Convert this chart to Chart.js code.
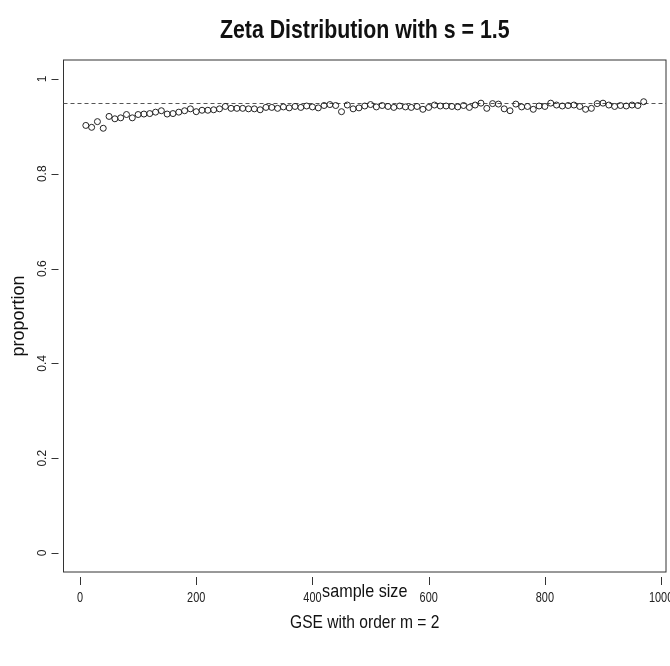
<!DOCTYPE html>
<html>
<head>
<meta charset="utf-8">
<script src="https://cdn.jsdelivr.net/npm/chart.js@4.4.1/dist/chart.umd.min.js"></script>
<style>
  html, body { margin: 0; padding: 0; background: #fff; }
  #wrap { width: 670px; height: 666px; }
</style>
</head>
<body>
<div id="wrap"><canvas id="zetaChart" width="670" height="666"></canvas></div>
<script>
const sampleSizes = [
    10, 20, 30, 40, 50, 60, 70, 80, 90, 100,
    110, 120, 130, 140, 150, 160, 170, 180, 190, 200,
    210, 220, 230, 240, 250, 260, 270, 280, 290, 300,
    310, 320, 330, 340, 350, 360, 370, 380, 390, 400,
    410, 420, 430, 440, 450, 460, 470, 480, 490, 500,
    510, 520, 530, 540, 550, 560, 570, 580, 590, 600,
    610, 620, 630, 640, 650, 660, 670, 680, 690, 700,
    710, 720, 730, 740, 750, 760, 770, 780, 790, 800,
    810, 820, 830, 840, 850, 860, 870, 880, 890, 900,
    910, 920, 930, 940, 950, 960, 970
];

const proportions = [
    0.902, 0.898, 0.910, 0.896, 0.921, 0.916, 0.918, 0.925, 0.918, 0.925,
    0.926, 0.927, 0.930, 0.933, 0.926, 0.927, 0.930, 0.933, 0.937, 0.931,
    0.934, 0.934, 0.935, 0.937, 0.942, 0.938, 0.938, 0.938, 0.937, 0.937,
    0.935, 0.940, 0.940, 0.938, 0.941, 0.939, 0.942, 0.940, 0.943, 0.941,
    0.939, 0.944, 0.946, 0.944, 0.931, 0.945, 0.937, 0.939, 0.943, 0.946,
    0.941, 0.944, 0.942, 0.940, 0.943, 0.941, 0.940, 0.942, 0.936, 0.940,
    0.945, 0.943, 0.943, 0.942, 0.941, 0.944, 0.940, 0.945, 0.949, 0.938,
    0.948, 0.947, 0.937, 0.933, 0.947, 0.941, 0.942, 0.936, 0.943, 0.942,
    0.949, 0.945, 0.943, 0.944, 0.945, 0.942, 0.936, 0.938, 0.948, 0.949,
    0.945, 0.942, 0.944, 0.943, 0.945, 0.944, 0.952
];

const xTicks = [0, 200, 400, 600, 800, 1000];
const yTicks = [0, 0.2, 0.4, 0.6, 0.8, 1];
const nivelAlvo = 0.95; // linha tracejada de referência

const titulo = "Zeta Distribution with s = 1.5";
const tituloX = "sample size";
const subtitulo = "GSE with order m = 2";

const fonteNormal = '"Liberation Sans", Arial, sans-serif';

// texto "estreito" (tipo Helvetica Narrow): comprime na horizontal
function textoEstreito(ctx, texto, x, y, fonte, fator) {
    ctx.save();
    ctx.font = fonte;
    ctx.textAlign = "center";
    ctx.textBaseline = "middle";
    ctx.translate(x, y);
    ctx.scale(fator, 1);
    ctx.fillText(texto, 0, 0);
    ctx.restore();
}

// moldura, marcas dos eixos, linha de 0.95 e títulos no estilo do R
const estiloR = {
    id: "estiloR",
    beforeDatasetsDraw(chart) {
        const { ctx, chartArea: a, scales: { x, y } } = chart;
        ctx.save();
        ctx.strokeStyle = "#333";
        ctx.lineWidth = 1;
        ctx.strokeRect(a.left, a.top, a.right - a.left, a.bottom - a.top);

        ctx.beginPath();
        x.ticks.forEach(t => {
            const px = Math.round(x.getPixelForValue(t.value)) + 0.5;
            ctx.moveTo(px, a.bottom + 5);
            ctx.lineTo(px, a.bottom + 13);
        });
        y.ticks.forEach(t => {
            const py = Math.round(y.getPixelForValue(t.value)) + 0.5;
            ctx.moveTo(a.left - 12, py);
            ctx.lineTo(a.left - 5, py);
        });
        ctx.stroke();

        const py = Math.round(y.getPixelForValue(nivelAlvo)) + 0.5;
        ctx.strokeStyle = "#555";
        ctx.setLineDash([4, 3]);
        ctx.beginPath();
        ctx.moveTo(a.left, py);
        ctx.lineTo(a.right, py);
        ctx.stroke();
        ctx.restore();
    },
    afterDraw(chart) {
        const { ctx, chartArea: a, scales: { x } } = chart;
        const cx = (a.left + a.right) / 2;
        ctx.fillStyle = "#222";
        x.ticks.forEach(t => {
            textoEstreito(ctx, String(t.value), x.getPixelForValue(t.value), 598,
                "14px " + fonteNormal, 0.78);
        });
        ctx.fillStyle = "#111";
        textoEstreito(ctx, titulo, cx, 31, "bold 26px " + fonteNormal, 0.82);
        textoEstreito(ctx, tituloX, cx, 592, "19px " + fonteNormal, 0.85);
        textoEstreito(ctx, subtitulo, cx, 623, "19px " + fonteNormal, 0.82);
    }
};

const ctx = document.getElementById("zetaChart").getContext("2d");

new Chart(ctx, {
    type: "scatter",
    data: {
        datasets: [{
            label: "proportion",
            data: sampleSizes.map((n, i) => ({ x: n, y: proportions[i] })),
            pointStyle: "circle",
            pointRadius: 3,
            pointHoverRadius: 3,
            borderColor: "#222",
            backgroundColor: "rgba(0,0,0,0)",
            borderWidth: 1
        }]
    },
    options: {
        responsive: false,
        animation: false,
        layout: { padding: { top: 60, right: 3, left: 0, bottom: 0 } },
        plugins: {
            legend: { display: false },
            tooltip: { enabled: false }
        },
        scales: {
            x: {
                type: "linear",
                min: -28.4,
                max: 1008.4,
                grid: { display: false, drawTicks: false },
                border: { display: false },
                afterBuildTicks: s => { s.ticks = xTicks.map(v => ({ value: v })); },
                afterFit: s => { s.height = 94; s.paddingLeft = 0; s.paddingRight = 0; },
                ticks: { display: false }
            },
            y: {
                type: "linear",
                min: -0.04,
                max: 1.04,
                grid: { display: false, drawTicks: false },
                border: { display: false },
                afterBuildTicks: s => { s.ticks = yTicks.map(v => ({ value: v })); },
                afterFit: s => { s.width = 63.5; s.paddingTop = 0; s.paddingBottom = 0; },
                ticks: {
                    padding: 12,
                    minRotation: 90,
                    maxRotation: 90,
                    crossAlign: "center",
                    autoSkip: false,
                    color: "#222",
                    font: { family: fonteNormal, size: 12 },
                    callback: v => String(v)
                },
                title: {
                    display: true,
                    text: "proportion",
                    color: "#111",
                    font: { family: fonteNormal, size: 18 },
                    padding: { top: 8.2, bottom: 0 }
                }
            }
        }
    },
    plugins: [estiloR]
});
</script>
</body>
</html>
